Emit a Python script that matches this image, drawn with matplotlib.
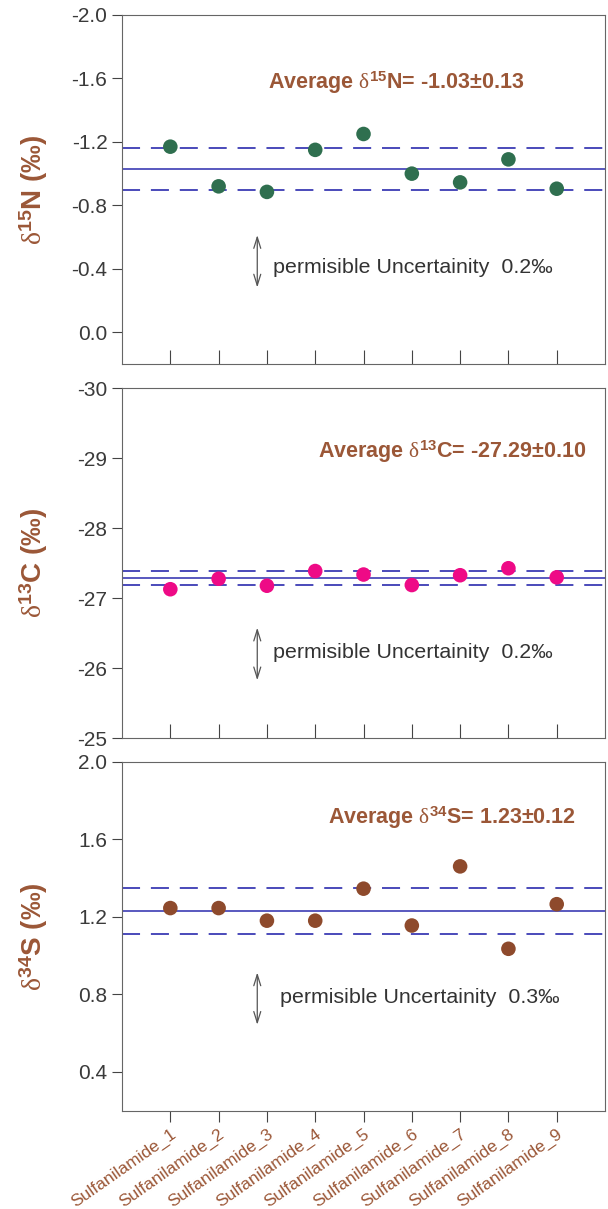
import numpy as np
import matplotlib
matplotlib.use("Agg")
import matplotlib.pyplot as plt

plt.rcParams['font.family'] = ['Liberation Sans', 'DejaVu Sans']
plt.rcParams['mathtext.fontset'] = 'custom'
plt.rcParams['mathtext.rm'] = 'Liberation Serif'
plt.rcParams['mathtext.bf'] = 'Liberation Sans:bold'
plt.rcParams['mathtext.it'] = 'Liberation Serif'

samples = ["Sulfanilamide_%d" % i for i in range(1, 10)]

d15N = [-1.17, -0.92, -0.885, -1.15, -1.25, -1.00, -0.945, -1.09, -0.905]
d13C = [-27.13, -27.28, -27.18, -27.39, -27.34, -27.19, -27.33, -27.43, -27.30]
d34S = [1.245, 1.245, 1.18, 1.18, 1.345, 1.155, 1.46, 1.035, 1.265]

avg = [-1.03, -27.29, 1.23]
sd = [0.13, 0.10, 0.12]
uncert = ["0.2", "0.2", "0.3"]

brown = "#9b5737"
lblue = "#3c3cb4"
cols = ["#2f6f4f", "#ee0a86", "#8e4a2c"]
ylabels = [r"$\mathrm{\delta}^{\mathbf{15}}\mathbf{N}$ (‰)",
           r"$\mathrm{\delta}^{\mathbf{13}}\mathbf{C}$ (‰)",
           r"$\mathrm{\delta}^{\mathbf{34}}\mathbf{S}$ (‰)"]
avg_txt = [r"Average $\mathrm{\delta}^{\mathbf{15}}$N= -1.03±0.13",
           r"Average $\mathrm{\delta}^{\mathbf{13}}$C= -27.29±0.10",
           r"Average $\mathrm{\delta}^{\mathbf{34}}$S= 1.23±0.12"]

fig = plt.figure(figsize=(6.08, 12.09), dpi=100)
boxes = [[0.2007, 0.6989, 0.7944, 0.2887],
         [0.2007, 0.3893, 0.7944, 0.2895],
         [0.2007, 0.0813, 0.7944, 0.2887]]
ylims = [(0.2, -2.0), (-25, -30), (0.2, 2.0)]
yticks = [[-2.0, -1.6, -1.2, -0.8, -0.4, 0.0],
          [-30, -29, -28, -27, -26, -25],
          [0.4, 0.8, 1.2, 1.6, 2.0]]
yfmt = ["%.1f", "%d", "%.1f"]
# arrow extent in data units, text positions
arrows = [(-0.63, -0.265), (-26.62, -25.79), (0.927, 0.629)]
txt_pos = [(3.13, -0.41), (3.13, -26.22), (3.27, 0.783)]
avg_pos = [(5.67, -1.57), (6.84, -29.09), (6.84, 1.71)]

data = [d15N, d13C, d34S]
x = np.arange(1, 10)

for k in range(3):
    ax = fig.add_axes(boxes[k])
    ax.set_xlim(0, 10)
    ax.set_ylim(*ylims[k])
    ax.scatter(x, data[k], s=110, color=cols[k], zorder=3, edgecolors='none')
    ax.axhline(avg[k], color=lblue, lw=1.2)
    ax.axhline(avg[k] + sd[k], color=lblue, lw=1.3, ls=(0, (10, 6)))
    ax.axhline(avg[k] - sd[k], color=lblue, lw=1.3, ls=(0, (10, 6)))
    ax.set_yticks(yticks[k])
    ax.set_yticklabels([yfmt[k] % v for v in yticks[k]], fontsize=15, color="#3a3a3a")
    ax.set_xticks(x)
    for s in ax.spines.values():
        s.set_color("#666666")
    ax.tick_params(axis='y', direction='out', length=7, color="#444444")
    if k < 2:
        ax.tick_params(axis='x', direction='in', length=10, color="#444444")
        ax.set_xticklabels([])
    else:
        ax.tick_params(axis='x', direction='out', length=8, color="#444444")
        ax.set_xticklabels(samples, rotation=35, ha='right', rotation_mode='anchor',
                           fontsize=12.5, color=brown)
    ax.set_ylabel(ylabels[k], fontsize=20, color=brown, fontweight='bold')
    ax.yaxis.set_label_coords(-0.15, 0.5)
    ax.text(avg_pos[k][0], avg_pos[k][1], avg_txt[k], fontsize=15.5, fontweight='bold',
            color=brown, ha='center', va='center')
    ax.annotate("", xy=(2.8, arrows[k][0]), xytext=(2.8, arrows[k][1]),
                arrowprops=dict(arrowstyle='<->,head_length=0.8,head_width=0.25',
                                color="#555555", lw=0.9))
    ax.text(txt_pos[k][0], txt_pos[k][1], "permisible Uncertainity  %s‰" % uncert[k],
            fontsize=15.4, color="#333333", ha='left', va='center')

fig.savefig("out.png", dpi=100)
